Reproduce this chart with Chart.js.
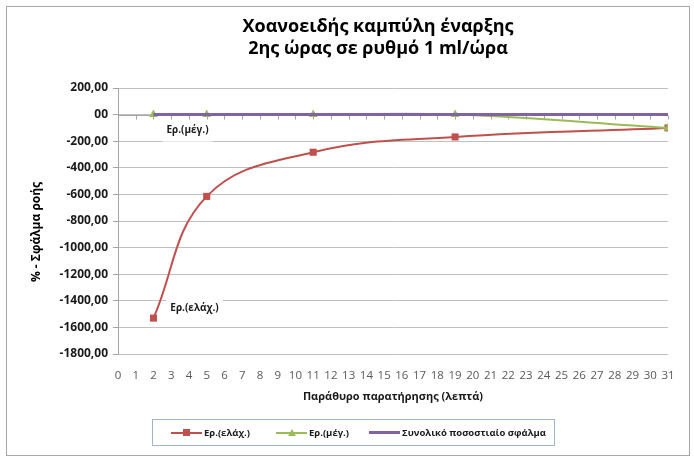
<!DOCTYPE html>
<html>
<head>
<meta charset="utf-8">
<script src="https://cdn.jsdelivr.net/npm/chart.js@4"></script>
<style>
  html, body { margin: 0; padding: 0; background: #fff; }
  #wrap { position: relative; width: 694px; height: 458px; }
  #legend {
    position: absolute; left: 152px; top: 419px; width: 403px; height: 27px;
    border: 1px solid #9fb3cc; box-sizing: border-box;
    font: bold 9.5px "Open Sans", sans-serif; color: #1a1a1a;
  }
  .item { position: absolute; top: 0; height: 25px; line-height: 25px; white-space: nowrap; }
  .swatch { position: absolute; top: 12px; width: 31px; height: 2px; }
  .mark { position: absolute; }
</style>
</head>
<body>
<div id="wrap">
  <canvas id="chart" width="694" height="458"></canvas>
  <div id="legend"></div>
</div>
<script>
const minutes = [2, 5, 11, 19, 31];
const errMin = [-1530, -615, -283, -168, -100];
const errMax = [0, 0, 0, 0, -100];
const totalErr = [0, 0, 0, 0, 0];
const yTickLabels = {
  200: '200,00', 0: '00', '-200': '-200,00', '-400': '-400,00', '-600': '-600,00',
  '-800': '-800,00', '-1000': '-1000,00', '-1200': '-1200,00', '-1400': '-1400,00',
  '-1600': '-1600,00', '-1800': '-1800,00',
};
const seriesNames = ['Ερ.(ελάχ.)', 'Ερ.(μέγ.)', 'Συνολικό ποσοστιαίο σφάλμα'];
const titleLines = ['Χοανοειδής καμπύλη έναρξης', '2ης ώρας σε ρυθμό 1 ml/ώρα'];

const RED = '#c0504d';
const GREEN = '#9bbb59';
const PURPLE = '#8064a2';
const FONT = '"Open Sans", sans-serif';

const toPoints = (xs, ys) => xs.map((x, i) => ({ x, y: ys[i] }));

const decor = {
  id: 'decor',
  beforeDraw(chart) {
    const { ctx } = chart;
    ctx.save();
    ctx.fillStyle = '#fff';
    ctx.fillRect(0, 0, chart.width, chart.height);
    ctx.strokeStyle = '#a6a6a6';
    ctx.lineWidth = 1;
    ctx.strokeRect(6.5, 6.5, 683, 449);
    ctx.fillStyle = '#000';
    ctx.textAlign = 'center';
    ctx.textBaseline = 'middle';
    ctx.font = 'bold 18px ' + FONT;
    ctx.fillText(titleLines[0], 378, 27);
    ctx.fillText(titleLines[1], 378, 49);
    ctx.translate(37, 232);
    ctx.rotate(-Math.PI / 2);
    ctx.font = 'bold 12px ' + FONT;
    ctx.fillText('% - Σφάλμα ροής', 0, 0);
    ctx.restore();
  },
  beforeDatasetsDraw(chart) {
    const { ctx, scales: { x, y } } = chart;
    const y0 = Math.round(y.getPixelForValue(0)) + 0.5;
    ctx.save();
    ctx.strokeStyle = '#a6a6a6';
    ctx.lineWidth = 1;
    ctx.beginPath();
    ctx.moveTo(x.getPixelForValue(0), y0);
    ctx.lineTo(x.getPixelForValue(31), y0);
    for (let v = 1; v <= 31; v++) {
      const px = Math.round(x.getPixelForValue(v)) + 0.5;
      ctx.moveTo(px, y0);
      ctx.lineTo(px, y0 + 4);
    }
    ctx.stroke();
    ctx.restore();
  },
  afterDatasetsDraw(chart) {
    const { ctx, scales: { x, y } } = chart;
    const labelAt = (text, vx, vy, dx, dy) => {
      const px = x.getPixelForValue(vx) + dx;
      const py = y.getPixelForValue(vy) + dy;
      ctx.font = 'bold 10px ' + FONT;
      const w = ctx.measureText(text).width + 8;
      ctx.fillStyle = '#fff';
      ctx.fillRect(px - w / 2, py - 9, w, 20);
      ctx.fillStyle = '#1a1a1a';
      ctx.fillText(text, px, py);
    };
    ctx.save();
    ctx.textAlign = 'center';
    ctx.textBaseline = 'middle';
    labelAt(seriesNames[1], minutes[0], errMax[0], 34, 16);
    labelAt(seriesNames[0], minutes[0], errMin[0], 41, -10);
    ctx.restore();
  },
};

new Chart(document.getElementById('chart'), {
  type: 'line',
  data: {
    datasets: [
      {
        label: seriesNames[0],
        data: toPoints(minutes, errMin),
        borderColor: RED,
        backgroundColor: RED,
        borderWidth: 2,
        pointStyle: 'rect',
        pointRadius: 5,
        pointBorderWidth: 0,
        tension: 0.4,
        order: 3,
      },
      {
        label: seriesNames[1],
        data: toPoints(minutes, errMax),
        borderColor: GREEN,
        backgroundColor: GREEN,
        borderWidth: 2,
        pointStyle: 'triangle',
        pointRadius: 5,
        pointBorderWidth: 0,
        tension: 0.4,
        order: 2,
      },
      {
        label: seriesNames[2],
        data: toPoints(minutes, totalErr),
        borderColor: PURPLE,
        backgroundColor: PURPLE,
        borderWidth: 3,
        pointRadius: 0,
        tension: 0,
        order: 1,
      },
    ],
  },
  options: {
    responsive: false,
    animation: false,
    layout: { padding: { top: 88, left: 0, right: 26, bottom: 48 } },
    plugins: { legend: { display: false }, title: { display: false }, tooltip: { enabled: false } },
    scales: {
      x: {
        type: 'linear',
        min: 0,
        max: 31,
        afterFit: (s) => { s.height = 56; },
        grid: { display: false },
        border: { display: false },
        ticks: {
          stepSize: 1,
          autoSkip: false,
          maxRotation: 0,
          padding: 7,
          color: '#595959',
          font: { family: FONT, size: 11.5 },
        },
        title: {
          display: true,
          text: 'Παράθυρο παρατήρησης (λεπτά)',
          color: '#1a1a1a',
          font: { family: FONT, size: 11, weight: 'bold' },
          padding: { top: 0, bottom: 7 },
        },
      },
      y: {
        min: -1800,
        max: 200,
        afterFit: (s) => { s.width = 118; },
        grid: { color: '#c0c0c0', tickLength: 5, tickColor: '#a6a6a6' },
        border: { display: true, color: '#a6a6a6' },
        ticks: {
          stepSize: 200,
          padding: 5,
          color: '#1a1a1a',
          font: { family: FONT, size: 12, weight: 'bold' },
          callback: (v) => yTickLabels[v],
        },
      },
    },
  },
  plugins: [decor],
});

const legend = document.getElementById('legend');
const items = [
  { left: 18, color: RED, mark: 'rect', text: seriesNames[0] },
  { left: 123, color: GREEN, mark: 'tri', text: seriesNames[1] },
  { left: 216, color: PURPLE, mark: null, text: seriesNames[2] },
];
items.forEach((it) => {
  const el = document.createElement('div');
  el.className = 'item';
  el.style.left = it.left + 'px';
  const sw = document.createElement('span');
  sw.className = 'swatch';
  sw.style.left = '0px';
  sw.style.background = it.color;
  if (it.mark === null) { sw.style.height = '3px'; sw.style.top = '11px'; }
  el.appendChild(sw);
  if (it.mark === 'rect') {
    const m = document.createElement('span');
    m.className = 'mark';
    m.style.cssText = `left:12px;top:9px;width:7px;height:7px;background:${it.color}`;
    el.appendChild(m);
  } else if (it.mark === 'tri') {
    const m = document.createElement('span');
    m.className = 'mark';
    m.style.cssText = `left:12px;top:9px;width:0;height:0;border-left:4px solid transparent;border-right:4px solid transparent;border-bottom:7px solid ${it.color}`;
    el.appendChild(m);
  }
  const t = document.createElement('span');
  t.style.marginLeft = '33px';
  t.textContent = it.text;
  el.appendChild(t);
  legend.appendChild(el);
});
</script>
</body>
</html>
